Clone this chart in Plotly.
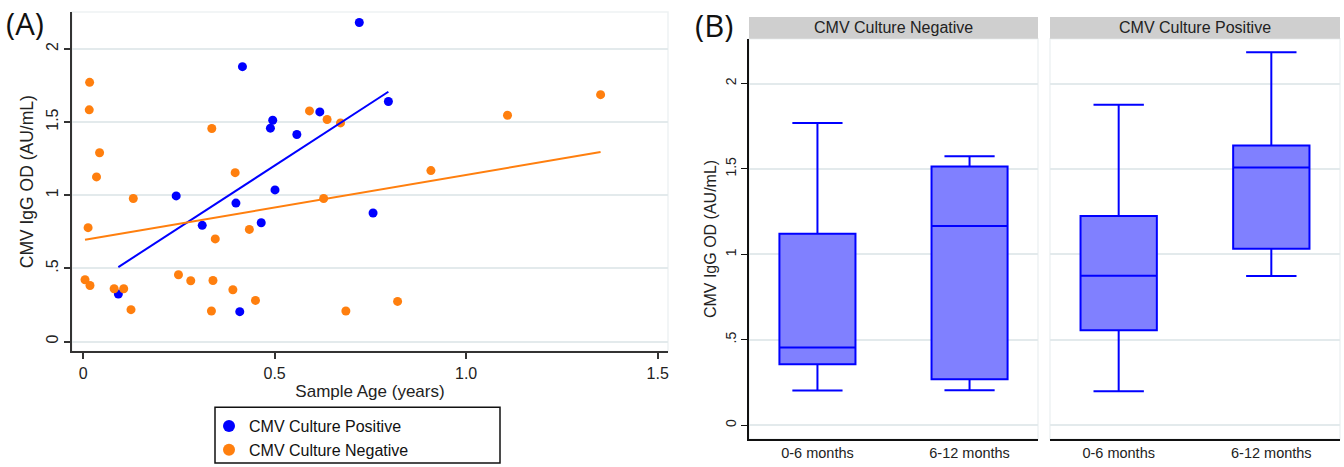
import numpy as np
import plotly.graph_objects as go

# ---------------- data ----------------
# Panel A: CMV Culture Positive
pos_age = [0.721, 0.416, 0.797, 0.618, 0.495, 0.489, 0.558, 0.501, 0.243, 0.399,
           0.311, 0.465, 0.092, 0.409, 0.757]
pos_od = [2.18, 1.878, 1.64, 1.569, 1.512, 1.458, 1.415, 1.036, 0.995, 0.946,
          0.794, 0.812, 0.324, 0.204, 0.878]

# Panel A: CMV Culture Negative
neg_age = [0.017, 0.016, 0.043, 0.035, 0.336, 0.397, 0.591, 0.637, 0.672, 1.351,
           1.108, 0.908, 0.131, 0.628, 0.013, 0.345, 0.434, 0.249, 0.281, 0.339,
           0.391, 0.005, 0.018, 0.081, 0.106, 0.125, 0.335, 0.450, 0.686, 0.821]
neg_od = [1.771, 1.583, 1.290, 1.125, 1.456, 1.154, 1.576, 1.517, 1.494, 1.687,
          1.546, 1.168, 0.977, 0.977, 0.778, 0.701, 0.766, 0.456, 0.415, 0.417,
          0.354, 0.422, 0.383, 0.361, 0.361, 0.218, 0.209, 0.281, 0.209, 0.274]

x_ticks = [0, 0.5, 1.0, 1.5]
x_ticktext = ["0", "0.5", "1.0", "1.5"]
y_ticks = [0, 0.5, 1, 1.5, 2]
y_ticktext = ["0", ".5", "1", "1.5", "2"]

# Panel B: box plot summaries
box_groups = ["0-6 months", "6-12 months"]
neg_lower = [0.203, 0.204]
neg_q1 = [0.357, 0.268]
neg_median = [0.455, 1.166]
neg_q3 = [1.121, 1.514]
neg_upper = [1.769, 1.574]

pos_lower = [0.198, 0.873]
pos_q1 = [0.556, 1.032]
pos_median = [0.875, 1.508]
pos_q3 = [1.224, 1.638]
pos_upper = [1.876, 2.183]

W, H = 1344, 467
def px_x(p): return p / W
def px_y(p): return 1 - p / H

FONT = "Liberation Sans, Arial, sans-serif"
NARROW = "Liberation Sans Narrow, Liberation Sans, Arial, sans-serif"
BLUE = "#0000ff"
ORANGE = "#ff7f0e"
GRID = "#e3eaec"

fig = go.Figure()

fig.add_trace(go.Scatter(x=pos_age, y=pos_od, mode="markers", name="CMV Culture Positive",
                         marker=dict(color=BLUE, size=9), xaxis="x", yaxis="y"))
fig.add_trace(go.Scatter(x=neg_age, y=neg_od, mode="markers", name="CMV Culture Negative",
                         marker=dict(color=ORANGE, size=9), xaxis="x", yaxis="y"))

# linear fits
for ax, ay, col in [(pos_age, pos_od, BLUE), (neg_age, neg_od, ORANGE)]:
    b, a = np.polyfit(ax, ay, 1)
    xs = [min(ax), max(ax)]
    fig.add_trace(go.Scatter(x=xs, y=[a + b * v for v in xs], mode="lines",
                             line=dict(color=col, width=2), showlegend=False,
                             hoverinfo="skip", xaxis="x", yaxis="y"))

box_style = dict(fillcolor="#8080ff", line=dict(color=BLUE, width=2), whiskerwidth=0.66,
                 width=0.5, showlegend=False, boxpoints=False)
fig.add_trace(go.Box(x=box_groups, q1=neg_q1, median=neg_median, q3=neg_q3,
                     lowerfence=neg_lower, upperfence=neg_upper,
                     xaxis="x2", yaxis="y2", **box_style))
fig.add_trace(go.Box(x=box_groups, q1=pos_q1, median=pos_median, q3=pos_q3,
                     lowerfence=pos_lower, upperfence=pos_upper,
                     xaxis="x3", yaxis="y3", **box_style))

axis_common = dict(zeroline=False)
fig.update_layout(
    width=W, height=H,
    margin=dict(l=0, r=0, t=0, b=0),
    paper_bgcolor="white", plot_bgcolor="white",
    font=dict(family=FONT, color="#222", size=15),
    showlegend=True,
    legend=dict(x=px_x(209), y=px_y(411), xanchor="left", yanchor="top",
                bgcolor="rgba(0,0,0,0)", borderwidth=0,
                font=dict(size=16, color="#111"), itemwidth=30, tracegroupgap=0,
                itemsizing="constant"),
    xaxis=dict(domain=[px_x(72), px_x(668)], range=[-0.029, 1.527], anchor="y",
               tickvals=x_ticks, ticktext=x_ticktext, showgrid=False,
               showline=True, linecolor="#333", linewidth=2,
               ticks="outside", ticklen=6, tickwidth=1.5, tickcolor="#333",
               tickfont=dict(size=16), title=dict(text="Sample Age (years)", font=dict(size=17), standoff=4),
               **axis_common),
    yaxis=dict(domain=[px_y(353), px_y(12)], range=[-0.068, 2.252], anchor="x",
               tickvals=y_ticks, ticktext=y_ticktext, tickangle=-90,
               showgrid=True, gridcolor=GRID, gridwidth=2,
               showline=True, linecolor="#333", linewidth=2,
               ticks="outside", ticklen=6, tickwidth=1.5, tickcolor="#333",
               tickfont=dict(size=16), title=dict(text="CMV IgG OD (AU/mL)", font=dict(size=17.5), standoff=5),
               **axis_common),
    xaxis2=dict(domain=[px_x(749), px_x(1038)], range=[-0.45, 1.45], anchor="y2",
                type="category", showgrid=False, showline=True, linecolor="#111", linewidth=1.5,
                ticks="", tickfont=dict(size=14.5, family=NARROW),
                **axis_common),
    yaxis2=dict(domain=[px_y(441), px_y(39)], range=[-0.082, 2.262], anchor="x2",
                tickvals=y_ticks, ticktext=y_ticktext, tickangle=-90,
                showgrid=True, gridcolor=GRID, gridwidth=1.5,
                showline=True, linecolor="#111", linewidth=1.5,
                ticks="outside", ticklen=6, tickwidth=1, tickcolor="#111",
                tickfont=dict(size=14), title=dict(text="CMV IgG OD (AU/mL)", font=dict(size=16), standoff=2),
                **axis_common),
    xaxis3=dict(domain=[px_x(1050), px_x(1340)], range=[-0.45, 1.45], anchor="y3",
                type="category", showgrid=False, showline=True, linecolor="#111", linewidth=1.5,
                ticks="", tickfont=dict(size=14.5, family=NARROW),
                **axis_common),
    yaxis3=dict(domain=[px_y(441), px_y(39)], range=[-0.082, 2.262], anchor="x3",
                tickvals=y_ticks, showticklabels=False, showline=False,
                showgrid=True, gridcolor=GRID, gridwidth=1.5, ticks="",
                **axis_common),
)

shapes = [
    # faint plot borders
    dict(type="rect", xref="paper", yref="paper", x0=px_x(72), x1=px_x(668), y0=px_y(353), y1=px_y(12),
         line=dict(color="#eef2f3", width=1.5), layer="below"),
    dict(type="rect", xref="paper", yref="paper", x0=px_x(749), x1=px_x(1038), y0=px_y(441), y1=px_y(39),
         line=dict(color="#eef2f3", width=1.5), layer="below"),
    dict(type="rect", xref="paper", yref="paper", x0=px_x(1050), x1=px_x(1340), y0=px_y(441), y1=px_y(39),
         line=dict(color="#eef2f3", width=1.5), layer="below"),
    # facet strips
    dict(type="rect", xref="paper", yref="paper", x0=px_x(749), x1=px_x(1038), y0=px_y(39), y1=px_y(17),
         fillcolor="#cfcfcf", line=dict(width=0)),
    dict(type="rect", xref="paper", yref="paper", x0=px_x(1050), x1=px_x(1340), y0=px_y(39), y1=px_y(17),
         fillcolor="#cfcfcf", line=dict(width=0)),
    # legend box
    dict(type="rect", xref="paper", yref="paper", x0=px_x(215), x1=px_x(500), y0=px_y(465), y1=px_y(409),
         line=dict(color="#111", width=1.5)),
]
fig.update_layout(shapes=shapes)

annotations = [
    dict(text="(A)", x=px_x(4), y=px_y(23), xref="paper", yref="paper", xanchor="left", yanchor="middle",
         showarrow=False, font=dict(size=31, family="Open Sans, Noto Sans, sans-serif", color="#111")),
    dict(text="(B)", x=px_x(693), y=px_y(25), xref="paper", yref="paper", xanchor="left", yanchor="middle",
         showarrow=False, font=dict(size=31, family="Open Sans, Noto Sans, sans-serif", color="#111")),
    dict(text="CMV Culture Negative", x=px_x((749 + 1038) / 2), y=px_y(28), xref="paper", yref="paper",
         xanchor="center", yanchor="middle",
         showarrow=False, font=dict(size=16, color="#222")),
    dict(text="CMV Culture Positive", x=px_x((1050 + 1340) / 2), y=px_y(28), xref="paper", yref="paper",
         xanchor="center", yanchor="middle",
         showarrow=False, font=dict(size=16, color="#222")),
]
fig.update_layout(annotations=annotations)

fig.write_html("out.html", config={"displayModeBar": False},
               post_script="document.body.style.margin='0';document.body.style.padding='0';")
